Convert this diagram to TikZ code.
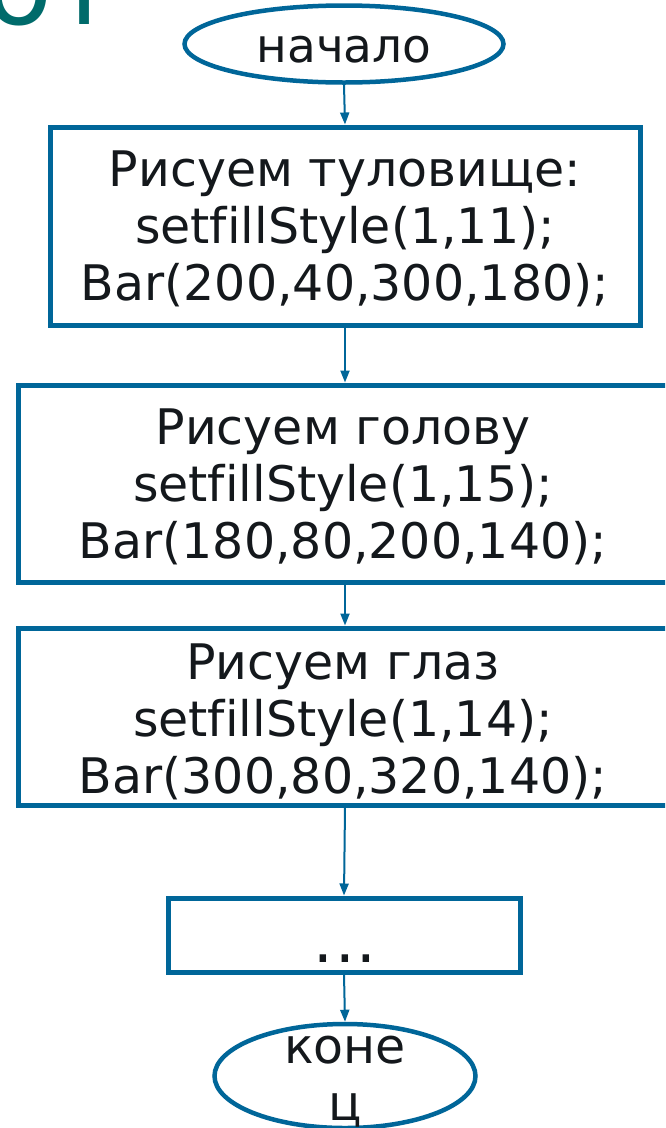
\documentclass[tikz,border=0pt]{standalone}
\usepackage{fontspec}
\setmainfont[Ligatures=NoCommon]{DejaVu Sans}
\usetikzlibrary{shapes.geometric,arrows.meta}
\definecolor{flowblue}{RGB}{0,102,153}
\definecolor{titleteal}{RGB}{0,107,107}
\definecolor{ink}{RGB}{20,24,28}
\begin{document}
\begin{tikzpicture}[x=1pt,y=-1pt,
  box/.style={draw=flowblue, line width=5pt, rectangle, inner sep=0pt},
  term/.style={draw=flowblue, line width=4.5pt, ellipse, inner sep=0pt},
  txt/.style={text=ink, font=\fontsize{49}{57}\selectfont, align=center, inner sep=0pt},
  arr/.style={draw=flowblue, line width=2pt, -{Triangle[length=12pt,width=9pt]}}]
\useasboundingbox (0,0) rectangle (665,1128);
\clip (0,0) rectangle (665,1128);
\fill[white] (0,0) rectangle (665,1128);
% cut-off title
\node[text=titleteal, font=\fontsize{110}{110}\selectfont, anchor=base west, inner sep=0pt] (title) at (-15,24) {от};
% shapes
\node[term, minimum width=319pt, minimum height=77pt] (start) at (344,44) {};
\node[txt, anchor=base, font=\fontsize{47}{57}\selectfont] (starttext) at (344,62) {начало};
\node[box, minimum width=590pt, minimum height=198pt] (b1) at (345,226) {};
\node[txt, anchor=base] (b1text) at (345,300) {Рисуем туловище:\\setfillStyle(1,11);\\Bar(200,40,300,180);};
\node[box, minimum width=650pt, minimum height=197pt] (b2) at (343,483.5) {};
\node[txt, anchor=base] (b2text) at (343,558) {Рисуем голову\\setfillStyle(1,15);\\Bar(180,80,200,140);};
\node[box, minimum width=650pt, minimum height=177pt] (b3) at (343,716.5) {};
\node[txt, anchor=base] (b3text) at (343,793) {Рисуем глаз\\setfillStyle(1,14);\\Bar(300,80,320,140);};
\node[box, minimum width=352pt, minimum height=74pt] (b4) at (344,935) {};
\node[txt, anchor=base, font=\fontsize{62}{57}\selectfont] (dots) at (345,962) {.\kern2pt.\kern2pt.};
\node[term, minimum width=261pt, minimum height=104pt] (end) at (345,1076) {};
\node[txt, anchor=base] (endtext) at (345,1120) {коне\\ц};
% connectors
\draw[arr] (start.south) -- (b1.north);
\draw[arr] (b1.south) -- (b1.south |- b2.north);
\draw[arr] (b2.south -| b1.south) -- (b1.south |- b3.north);
\draw[arr] (b3.south -| b1.south) -- (b4.north);
\draw[arr] (b4.south) -- (end.north);
\end{tikzpicture}
\end{document}
